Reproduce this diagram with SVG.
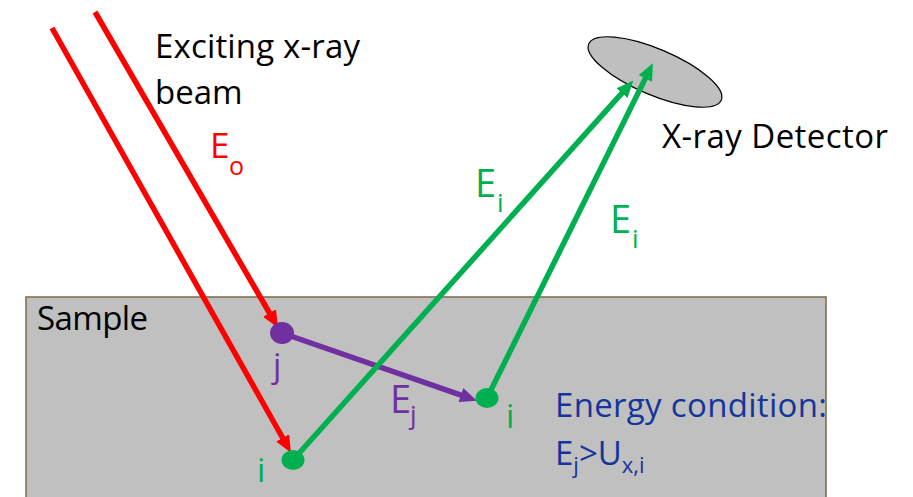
<svg xmlns="http://www.w3.org/2000/svg" width="913" height="497" viewBox="0 0 913 497">
<style>
text{font-family:"Open Sans","Liberation Sans",sans-serif;}
.lbl{font-size:33px;fill:#000;}
.red{stroke:#ff0000;}
.grn{stroke:#00b050;}
.pur{stroke:#7030a0;}
.ln{stroke-width:5.5;fill:none;stroke-linecap:butt;}
.tg{fill:#00b050;}
.tp{fill:#7030a0;}
.tb{fill:#14359c;}
</style>
<defs>
<marker id="ar" viewBox="0 0 17 15" markerWidth="17" markerHeight="15" refX="4" refY="7.5" orient="auto" markerUnits="userSpaceOnUse"><path d="M0,0 L17,7.5 L0,15 z" fill="#ff0000"/></marker>
<marker id="ag" viewBox="0 0 17 15" markerWidth="17" markerHeight="15" refX="4" refY="7.5" orient="auto" markerUnits="userSpaceOnUse"><path d="M0,0 L17,7.5 L0,15 z" fill="#00b050"/></marker>
<marker id="ap" viewBox="0 0 17 15" markerWidth="17" markerHeight="15" refX="4" refY="7.5" orient="auto" markerUnits="userSpaceOnUse"><path d="M0,0 L17,7.5 L0,15 z" fill="#7030a0"/></marker>
</defs>
<g id="sample">
<rect x="26" y="297" width="800" height="210" fill="#c0c0c0" stroke="#7f6548" stroke-width="1.5"/>
<text class="lbl" x="37" y="330" textLength="111">Sample</text>
</g>
<g id="detector">
<ellipse cx="655" cy="72" rx="72" ry="23" transform="rotate(23 655 72)" fill="#bfbfbf" stroke="#000" stroke-width="1.2"/>
<text class="lbl" x="662" y="148" textLength="226">X-ray Detector</text>
</g>
<g id="beam-label">
<text class="lbl" x="155" y="58" textLength="205">Exciting x-ray</text>
<text class="lbl" x="155" y="104">beam</text>
</g>
<g id="connectors">
<line class="ln red" x1="95" y1="12" x2="271.5" y2="316.5" marker-end="url(#ar)"/>
<line class="ln red" x1="52" y1="28" x2="284.6" y2="441.4" marker-end="url(#ar)"/>
<line class="ln pur" x1="282" y1="333" x2="464.6" y2="396.4" marker-end="url(#ap)"/>
<line class="ln grn" x1="293" y1="460" x2="624.6" y2="90.2" marker-end="url(#ag)"/>
<line class="ln grn" x1="487" y1="398" x2="647.1" y2="74.9" marker-end="url(#ag)"/>
</g>
<g id="Eo">
<text x="210" y="158" font-size="35" fill="#ff0000">E<tspan x="229" y="175" font-size="25">o</tspan></text>
</g>
<g id="Ei-1">
<text class="tg" x="475" y="197" font-size="38">E<tspan x="497" y="212" font-size="26">i</tspan></text>
</g>
<g id="Ei-2">
<text class="tg" x="610" y="233" font-size="38">E<tspan x="632" y="248" font-size="26">i</tspan></text>
</g>
<g id="Ej">
<text class="tp" x="390" y="413" font-size="38">E<tspan x="410" y="424" font-size="26">j</tspan></text>
</g>
<g id="atom-j">
<ellipse cx="282" cy="333" rx="12" ry="11" fill="#7030a0"/>
<text class="tp" x="273" y="377" font-size="33">j</text>
</g>
<g id="atom-i1">
<ellipse cx="293" cy="460" rx="11.5" ry="10" fill="#00b050"/>
<text class="tg" x="257" y="482" font-size="33">i</text>
</g>
<g id="atom-i2">
<ellipse cx="487" cy="398" rx="11.5" ry="10" fill="#00b050"/>
<text class="tg" x="506" y="428" font-size="33">i</text>
</g>
<g id="condition">
<text class="tb" x="555" y="417" font-size="33" textLength="272">Energy condition:</text>
<text class="tb" x="555" y="465" font-size="33">E<tspan dy="8" font-size="22">j</tspan><tspan dy="-8">&gt;U</tspan><tspan dy="8" font-size="22">x,i</tspan></text>
</g>
</svg>
